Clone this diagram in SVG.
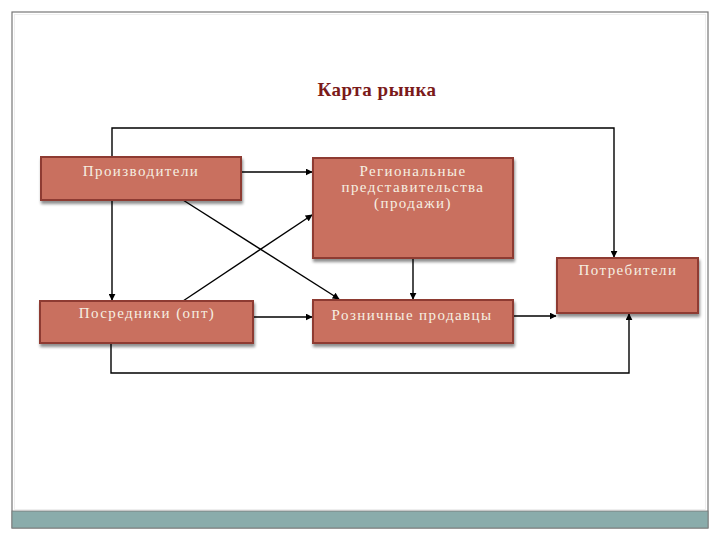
<svg xmlns="http://www.w3.org/2000/svg" width="720" height="540" viewBox="0 0 720 540">
<defs>
<marker id="ah" viewBox="0 0 10 10" refX="9" refY="5" markerWidth="7" markerHeight="7" markerUnits="userSpaceOnUse" orient="auto">
<path d="M0,0 L10,5 L0,10 z" fill="#000"/>
</marker>
<filter id="sh" x="-10%" y="-10%" width="130%" height="140%">
<feGaussianBlur in="SourceAlpha" stdDeviation="1.5"/>
<feOffset dx="1" dy="3" result="b"/>
<feComponentTransfer><feFuncA type="linear" slope="0.45"/></feComponentTransfer>
<feMerge><feMergeNode/><feMergeNode in="SourceGraphic"/></feMerge>
</filter>
</defs>
<style>
.box{fill:#c96f5e;stroke:#8e3b30;stroke-width:2;filter:url(#sh)}
.lbl{font-family:"Liberation Serif","DejaVu Serif",serif;font-size:15px;letter-spacing:1.4px;fill:#f6efe2;text-anchor:middle}
.con{stroke:#000;stroke-width:1.4;fill:none}
.arr{marker-end:url(#ah)}
</style>
<rect x="0" y="0" width="720" height="540" fill="#fff"/>
<g id="frame">
<rect x="12" y="12" width="696" height="516" fill="none" stroke="#777" stroke-width="1.2"/>
<rect x="14.5" y="14.5" width="691" height="495" fill="none" stroke="#eeeeee" stroke-width="1"/>
<rect x="12" y="511" width="696" height="17" fill="#8aacab" stroke="#777" stroke-width="0.8"/>
</g>
<text id="title" x="377" y="96" font-family="Liberation Serif,DejaVu Serif,serif" font-size="19" font-weight="bold" letter-spacing="0.5" fill="#7b1a1a" text-anchor="middle">Карта рынка</text>
<g id="connectors">
<path class="con arr" d="M112,157 V128 H614 V257"/>
<path class="con arr" d="M241,172 H312"/>
<path class="con arr" d="M112,200 V300"/>
<path class="con arr" d="M183,200 L339,299"/>
<path class="con arr" d="M183,301 L312,215"/>
<path class="con arr" d="M253,317 H312"/>
<path class="con arr" d="M413,258 V299"/>
<path class="con arr" d="M513,316 H556"/>
<path class="con arr" d="M111,343 V373 H629 V314"/>
</g>
<g id="n-producers">
<rect class="box" x="41" y="157" width="200" height="43"/>
<text class="lbl" x="141" y="176">Производители</text>
</g>
<g id="n-regional">
<rect class="box" x="313" y="158" width="200" height="100"/>
<text class="lbl" x="413" y="176">Региональные</text>
<text class="lbl" x="413" y="192">представительства</text>
<text class="lbl" x="413" y="208">(продажи)</text>
</g>
<g id="n-consumers">
<rect class="box" x="557" y="258" width="141" height="55"/>
<text class="lbl" x="628" y="275">Потребители</text>
</g>
<g id="n-intermediaries">
<rect class="box" x="40" y="301" width="213" height="42"/>
<text class="lbl" x="147" y="318">Посредники (опт)</text>
</g>
<g id="n-retail">
<rect class="box" x="313" y="300" width="200" height="43"/>
<text class="lbl" x="412" y="320">Розничные продавцы</text>
</g>
</svg>
